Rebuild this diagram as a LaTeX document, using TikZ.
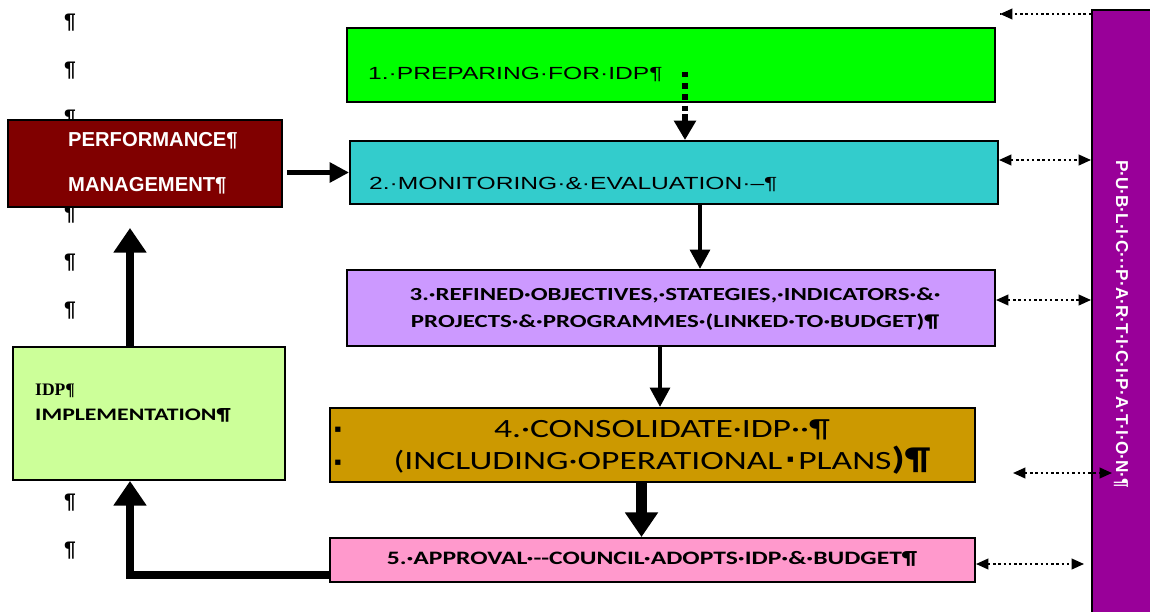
\documentclass[tikz,border=0pt]{standalone}
\usepackage{fontspec}
\setmainfont{Liberation Sans}
\newfontfamily\widearial[FakeStretch=1.4]{Liberation Sans}
\newfontfamily\calibfont{Carlito}
\newfontfamily\widecalib[FakeStretch=1.35]{Carlito}
\newfontfamily\dejafont{DejaVu Sans}
\newfontfamily\serfont{Liberation Serif}
\usetikzlibrary{arrows.meta,fit}

\definecolor{prepgreen}{HTML}{00FF00}
\definecolor{moncyan}{HTML}{33CCCC}
\definecolor{reflilac}{HTML}{CC99FF}
\definecolor{consgold}{HTML}{CC9900}
\definecolor{apppink}{HTML}{FF99CC}
\definecolor{pmred}{HTML}{800000}
\definecolor{implgreen}{HTML}{CCFF99}
\definecolor{pubpurple}{HTML}{990099}

\begin{document}
\begin{tikzpicture}[x=0.02cm, y=-0.02cm,
    box/.style={draw=black, line width=1.1pt, inner sep=0pt},
    flow/.style={-{Triangle[length=11pt,width=11pt]}, line width=2.6pt},
    bigflow/.style={-{Triangle[length=14pt,width=18pt]}, line width=5pt},
    link/.style={{Triangle[length=7pt,width=6pt]}-{Triangle[length=7pt,width=6pt]}, line width=1.1pt, dash pattern=on 1.4pt off 1.6pt},
    pil/.style={font=\bfseries\fontsize{12}{12}\selectfont}]

    \useasboundingbox (0,0) rectangle (1150,612);

    % Dấu đoạn bên trái
    \foreach \y [count=\i] in {23,71,119,215,263,311,503,551}
        \node[pil] (pil\i) at (70,\y) {¶};

    % Các bước chính
    \node[box, fill=prepgreen, fit={(347,28) (995,102)}] (prep) {};
    \node[anchor=west, font=\widearial\fontsize{10}{10}\selectfont] (prept) at (362,74) {1.·PREPARING·FOR·IDP¶};

    \node[box, fill=moncyan, fit={(350,141) (998,204)}] (mon) {};
    \node[anchor=west, font=\widearial\fontsize{10}{10}\selectfont] (mont) at (363,184) {2.·MONITORING·\&·EVALUATION·–¶};

    \node[box, fill=reflilac, fit={(347,270) (995,346)}] (refine) {};
    \node[align=center, font=\widecalib\bfseries\fontsize{10.5}{15.3}\selectfont] (refinet) at (675,309)
        {3.·REFINED·OBJECTIVES,·STATEGIES,·INDICATORS·\&·\\PROJECTS·\&·PROGRAMMES·(LINKED·TO·BUDGET)¶};

    \node[box, fill=consgold, fit={(330,408) (975,482)}] (cons) {};
    \node[align=center, font=\widecalib\fontsize{15}{18.7}\selectfont] (const) at (662,447)
        {4.·CONSOLIDATE·IDP··¶\\(INCLUDING·OPERATIONAL\,\raisebox{0.3em}{\dejafont\fontsize{6}{6}\selectfont▪}\,PLANS{\bfseries\fontsize{18}{18}\selectfont)¶}};
    \node[font=\dejafont\fontsize{6}{6}\selectfont] (bul1) at (338,430) {▪};
    \node[font=\dejafont\fontsize{6}{6}\selectfont] (bul2) at (338,463) {▪};

    \node[box, fill=apppink, fit={(330,538) (975,582)}] (appr) {};
    \node[font=\widecalib\bfseries\fontsize{10.8}{12}\selectfont] (apprt) at (652,559)
        {5.·APPROVAL·--COUNCIL·ADOPTS·IDP·\&·BUDGET¶};

    % Quản lý hiệu suất và thực hiện IDP
    \node[box, fill=pmred, fit={(8,120) (282,207)}] (pm) {};
    \node[anchor=west, align=left, text=white,
        font=\bfseries\fontsize{11.5}{25.5}\selectfont] (pmt) at (62,163) {PERFORMANCE¶\\MANAGEMENT¶};

    \node[box, fill=implgreen, fit={(13,347) (285,480)}] (impl) {};
    \node[anchor=west, font=\serfont\bfseries\fontsize{10}{10}\selectfont] (implt) at (29,391) {IDP¶};
    \node[anchor=west, font=\widecalib\bfseries\fontsize{10}{10}\selectfont] (implu) at (29,415) {IMPLEMENTATION¶};

    % Thanh tham gia cộng đồng
    \node[box, fill=pubpurple, fit={(1092,10) (1170,630)}] (pub) {};
    \node[rotate=-90, text=white, font=\bfseries\fontsize{9.8}{10}\selectfont] (pubt) at (1121,324)
        {P·U·B·L·I·C···P·A·R·T·I·C·I·P·A·T·I·O·N·¶};

    % Mũi tên luồng chính
    \draw[line width=3.2pt, dash pattern=on 3pt off 3.4pt] ([xshift=0.28cm,yshift=-0.14cm]prep.center) -- ([xshift=0.28cm,yshift=0.5cm]prep.center |- mon.north);
    \draw[-{Triangle[length=11pt,width=12pt]}, line width=3.2pt] ([xshift=0.28cm,yshift=0.52cm]prep.center |- mon.north) -- ([xshift=0.28cm]prep.center |- mon.north);
    \draw[flow, shorten <=0.08cm] (mon.west -| pm.east) -- (mon.west);
    \draw[flow] ([xshift=0.52cm]mon.south) -- ([xshift=0.52cm]mon.south |- refine.north);
    \draw[flow] ([xshift=-0.22cm]refine.south) -- ([xshift=-0.22cm]refine.south |- cons.north);
    \draw[bigflow, line width=6pt] ([xshift=-0.22cm]cons.south) -- ([xshift=-0.22cm]cons.south |- appr.north);
    \draw[bigflow] ([yshift=-0.3cm]appr.west) -| ([xshift=-0.38cm]impl.south);
    \draw[bigflow, shorten >=0.4cm] ([xshift=-0.38cm]impl.north) -- ([xshift=-0.38cm]impl.north |- pm.south);

    % Liên kết với thanh tham gia
    \coordinate (toptip) at (1000,14);
    \coordinate (linkl) at (1013,473);
    \coordinate (linkr) at (1112,473);
    \draw[link, -] (toptip -| pub.west) -- (toptip);
    \draw[-{Triangle[length=7pt,width=6pt]}, line width=1.1pt] ([xshift=0.1cm]toptip) -- (toptip);
    \draw[link] ([yshift=0.25cm]mon.east) -- ([yshift=0.25cm]mon.east -| pub.west);
    \draw[link] ([yshift=0.16cm]refine.east) -- ([yshift=0.16cm]refine.east -| pub.west);
    \draw[link] (linkl) -- (linkr);
    \draw[link, shorten >=0.14cm] ([yshift=-0.08cm]appr.east) -- ([yshift=-0.08cm]appr.east -| pub.west);
\end{tikzpicture}
\end{document}
